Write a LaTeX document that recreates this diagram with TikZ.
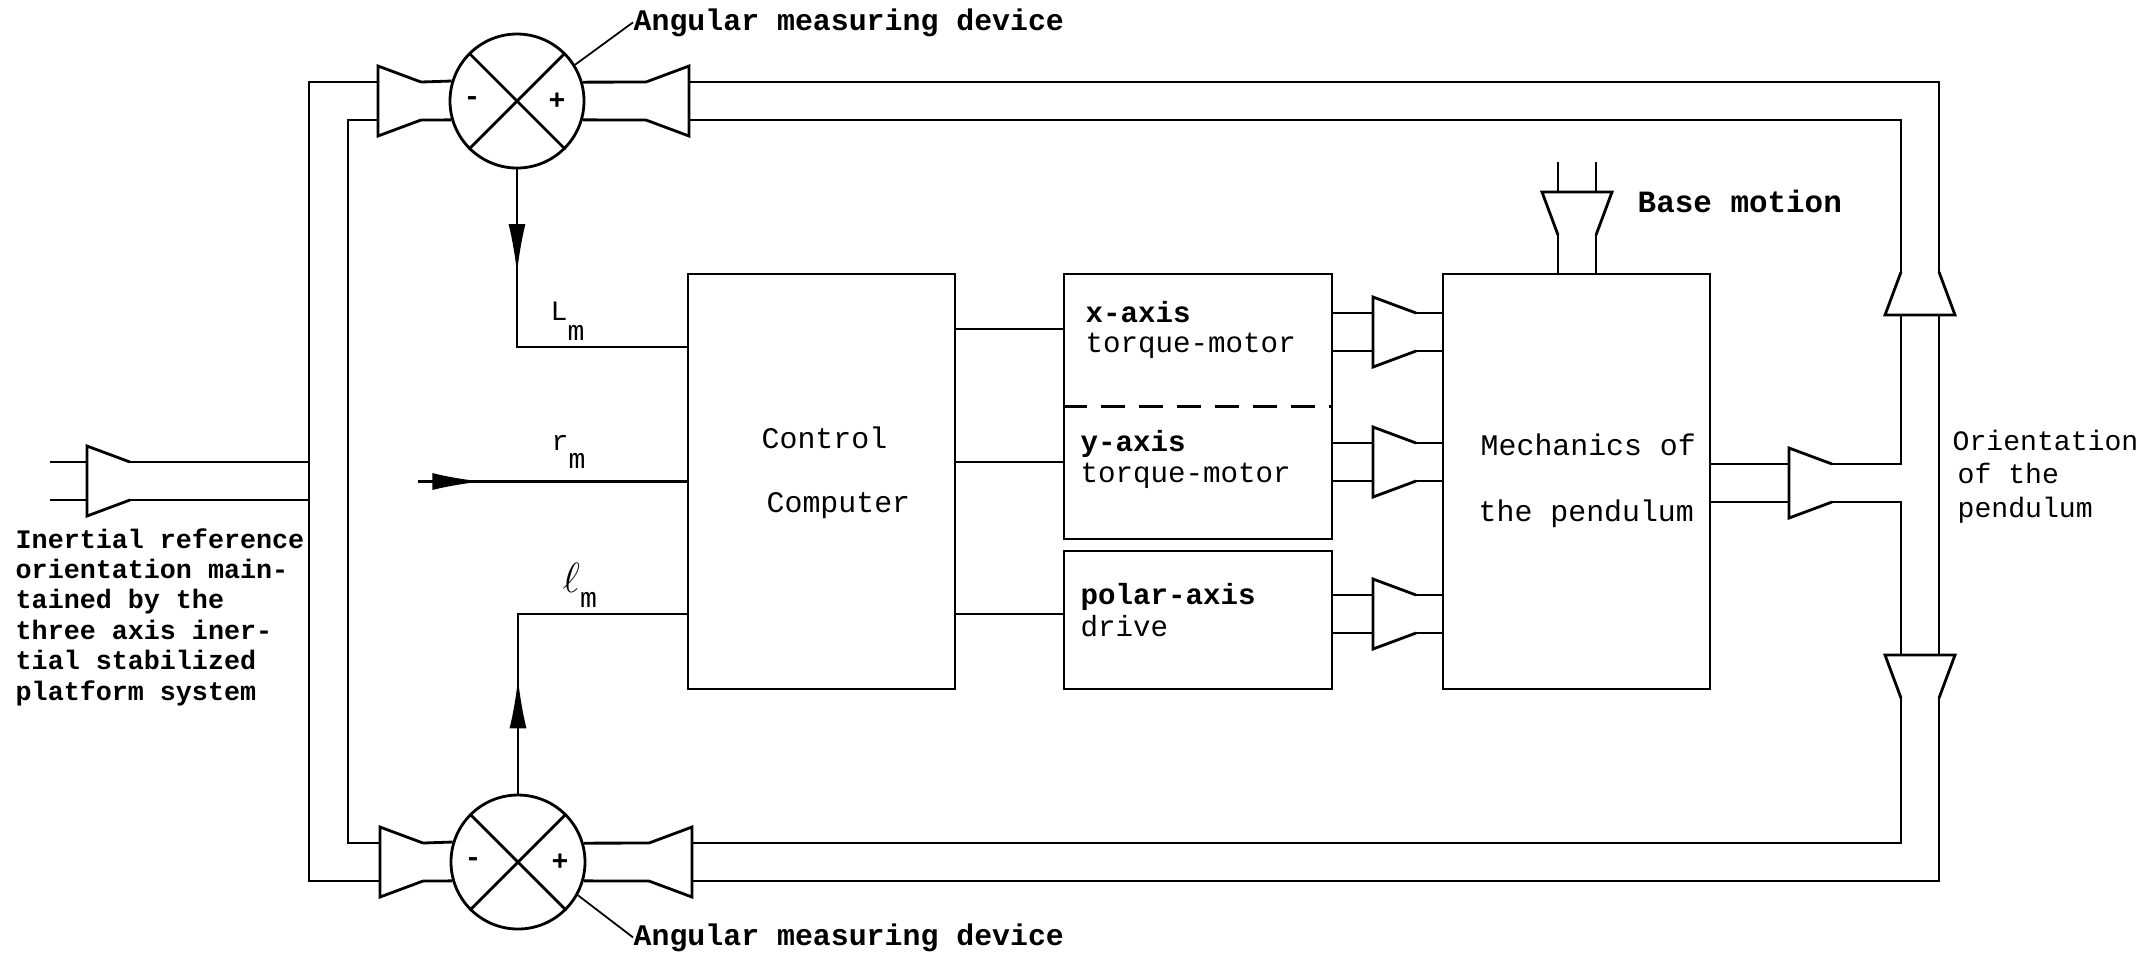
\documentclass[tikz,border=0pt]{standalone}
\usepackage{fontspec}
\setmonofont{Liberation Mono}
\usetikzlibrary{arrows.meta,decorations.markings}

\begin{document}
\begin{tikzpicture}[
    x=0.1mm, y=-0.1mm,
    >={Latex[length=5mm,width=1.7mm]},
    wire/.style={line width=0.8pt},
    block/.style={draw, rectangle, line width=0.8pt, inner sep=0pt},
    junction/.style={draw, circle, line width=0.8pt, minimum size=13.4mm, inner sep=0pt},
    txt/.style={anchor=base west, inner sep=0pt, font=\ttfamily\fontsize{#1}{#1}\selectfont},
    btxt/.style={anchor=base west, inner sep=0pt, font=\ttfamily\bfseries\fontsize{#1}{#1}\selectfont},
    sign/.style={inner sep=0pt, font=\ttfamily\bfseries\fontsize{8}{8}\selectfont},
    tipat/.style={postaction={decorate}, decoration={markings, mark=at position #1 with {\arrow{>}}}},
    horn/.pic={
      \draw[wire] (43,-19) -- (0,-35) -- (0,35) -- (43,19);
      \coordinate (-wa) at (0,-19);
      \coordinate (-wb) at (0,19);
      \coordinate (-na) at (43,-19);
      \coordinate (-nb) at (43,19);
    }
]
  \useasboundingbox (0,0) rectangle (2152,959);

  % Angular measuring devices
  \node[junction] (sumT) at (517,101) {};
  \node[junction] (sumB) at (518,862) {};
  \foreach \s in {sumT,sumB} {
    \draw[wire] (\s.45) -- (\s.225);
    \draw[wire] (\s.135) -- (\s.315);
  }
  \node[sign] (minT) at (472,101) {-};
  \node[sign] (plsT) at (557,101) {+};
  \node[sign] (minB) at (473,862) {-};
  \node[sign] (plsB) at (560,862) {+};
  \node[btxt=8.5] (angT) at (633,30) {Angular measuring device};
  \node[btxt=8.5] (angB) at (633,945) {Angular measuring device};
  \draw[line width=0.5pt] (sumT.32) -- (angT.west);
  \draw[line width=0.5pt] (sumB.-29) -- (angB.west);

  % Blocks
  \node[block, minimum width=26.7mm, minimum height=41.5mm] (ctrl) at (821.5,481.5) {};
  \node[block, minimum width=26.8mm, minimum height=26.5mm] (xy) at (1198,406.5) {};
  \node[block, minimum width=26.8mm, minimum height=13.8mm] (polar) at (1198,620) {};
  \node[block, minimum width=26.7mm, minimum height=41.5mm] (mech) at (1576.5,481.5) {};
  \draw[wire, dash pattern=on 2.4mm off 1.4mm] (xy.west) -- (xy.east);

  \node[txt=8.5] (ctrlA) at (761,448) {Control};
  \node[txt=8.5] (ctrlB) at (766,512) {Computer};
  \node[btxt=8.3] (xA) at (1085,322) {x-axis};
  \node[txt=8.3] (xB) at (1085,352) {torque-motor};
  \node[btxt=8.3] (yA) at (1080,451) {y-axis};
  \node[txt=8.3] (yB) at (1080,482) {torque-motor};
  \node[btxt=8.3] (pA) at (1080,604) {polar-axis};
  \node[txt=8.3] (pB) at (1080,636) {drive};
  \node[txt=8.5] (mA) at (1480,455) {Mechanics of};
  \node[txt=8.5] (mB) at (1478,521) {the pendulum};

  % Computer to drives
  \coordinate (xin) at (1064,329);
  \coordinate (yin) at (1064,462);
  \coordinate (pin) at (1064,614);
  \draw[wire] (ctrl.east |- xin) -- (xin);
  \draw[wire] (ctrl.east |- yin) -- (yin);
  \draw[wire] (ctrl.east |- pin) -- (pin);

  % Drives to pendulum
  \foreach \yy/\src/\nm in {332/xy/hX, 462/xy/hY, 614/polar/hP} {
    \pic (\nm) at (1373,\yy) {horn};
    \draw[wire] (\src.east |- \nm-wa) -- (\nm-wa);
    \draw[wire] (\src.east |- \nm-wb) -- (\nm-wb);
    \draw[wire] (\nm-na) -- (mech.west |- \nm-na);
    \draw[wire] (\nm-nb) -- (mech.west |- \nm-nb);
  }

  % Base motion
  \pic[rotate=-90] (hBM) at (1577,192) {horn};
  \draw[wire] (hBM-na) -- (hBM-na |- mech.north);
  \draw[wire] (hBM-nb) -- (hBM-nb |- mech.north);
  \draw[wire] (hBM-wa) -- ++(0,-30);
  \draw[wire] (hBM-wb) -- ++(0,-30);
  \node[btxt=8.8] (base) at (1637,212) {Base motion};

  % Pendulum orientation feedback
  \pic (hMO) at (1789,483) {horn};
  \draw[wire] (mech.east |- hMO-wa) -- (hMO-wa);
  \draw[wire] (mech.east |- hMO-wb) -- (hMO-wb);
  \pic[rotate=90] (hRU) at (1920,315) {horn};
  \pic[rotate=-90] (hRD) at (1920,655) {horn};
  \pic[rotate=180] (hTR) at (689,101) {horn};
  \pic[rotate=180] (hBR) at (692,862) {horn};
  \draw[wire] (hTR-wb) -| (hRU-nb);
  \draw[wire] (hTR-wa) -| (hRU-na);
  \draw[wire] (hRU-wb) -- (hRD-wa);
  \draw[wire] (hRU-wa) |- (hMO-na);
  \draw[wire] (hMO-nb) -| (hRD-wb);
  \draw[wire] (hRD-nb) |- (hBR-wb);
  \draw[wire] (hRD-na) |- (hBR-wa);
  \draw[wire] (hTR-nb) -- (sumT.16.5);
  \draw[wire] (hTR-na) -- (sumT.-16.5);
  \draw[wire] (hBR-nb) -- (sumB.16.5);
  \draw[wire] (hBR-na) -- (sumB.-16.5);
  \node[txt=8] (orA) at (1952,450) {Orientation};
  \node[txt=8] (orB) at (1957,483) {of the};
  \node[txt=8] (orC) at (1957,517) {pendulum};

  % Inertial reference
  \pic (hTL) at (378,101) {horn};
  \pic (hBL) at (380,862) {horn};
  \pic (hIN) at (87,481) {horn};
  \draw[wire] (hTL-na) -- (sumT.163.5);
  \draw[wire] (hTL-nb) -- (sumT.196.5);
  \draw[wire] (hBL-na) -- (sumB.163.5);
  \draw[wire] (hBL-nb) -- (sumB.196.5);
  \coordinate (outL) at (309,0);
  \coordinate (inL) at (348,0);
  \draw[wire] (hTL-wa) -- (hTL-wa -| outL) -- (hBL-wb -| outL) -- (hBL-wb);
  \draw[wire] (hTL-wb) -- (hTL-wb -| inL) -- (hBL-wa -| inL) -- (hBL-wa);
  \draw[wire] (hIN-na) -- (hIN-na -| outL);
  \draw[wire] (hIN-nb) -- (hIN-nb -| outL);
  \draw[wire] (hIN-wa) -- ++(-37,0);
  \draw[wire] (hIN-wb) -- ++(-37,0);
  \foreach \ln [count=\i] in {Inertial reference, orientation main-, tained by the,
      three axis iner-, tial stabilized, platform system}
    \node[btxt=7.6] (inr\i) at (15,{548+30.4*(\i-1)}) {\ln};

  % Measured signals
  \coordinate (Lin) at (688,347);
  \coordinate (lin) at (688,614);
  \coordinate (rin) at (418,481.5);
  \draw[wire, tipat=0.3] (sumT.south) |- (Lin);
  \draw[wire, tipat=0.33] (sumB.north) |- (lin);
  \draw[wire, tipat=0.24] (rin) -- (ctrl.west);
  \node[txt=8] (Lm) at (550,320) {L\raisebox{-2mm}{m}};
  \node[txt=8] (rm) at (551,450) {r\raisebox{-1.8mm}{m}};
  \node[txt=8] (lm) at (562,592) {{\fontsize{12}{12}\selectfont$\ell$}\raisebox{-1.5mm}{m}};
\end{tikzpicture}
\end{document}
